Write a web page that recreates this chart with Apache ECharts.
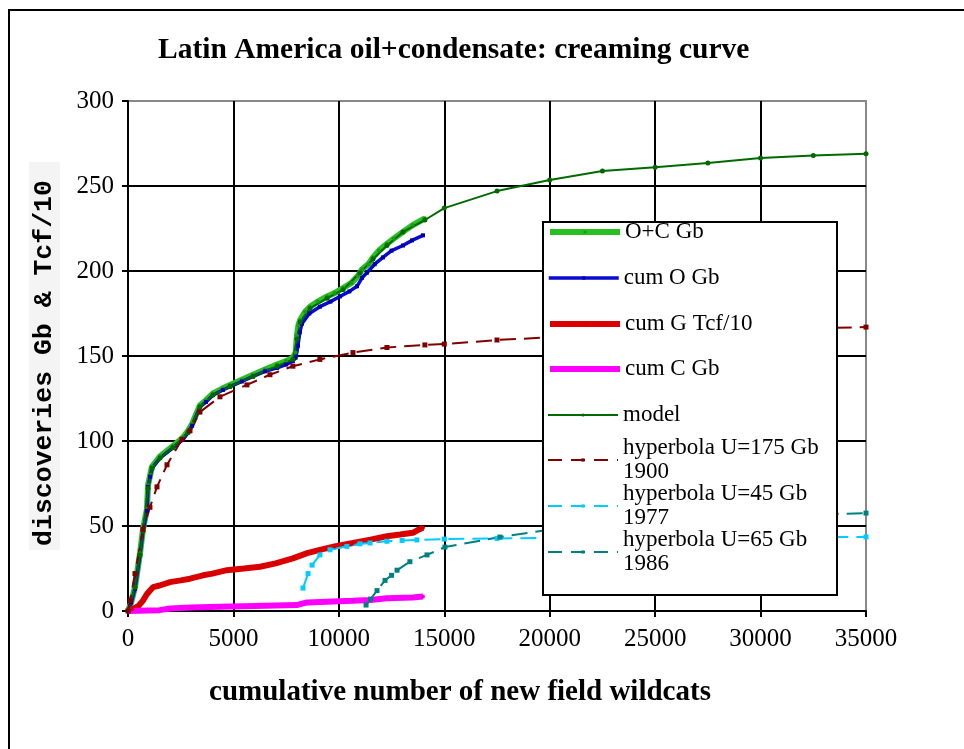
<!DOCTYPE html>
<html>
<head>
<meta charset="utf-8">
<script src="https://cdn.jsdelivr.net/npm/echarts@6/dist/echarts.min.js"></script>
<style>
html,body{margin:0;padding:0;background:#fff;}
#c{width:964px;height:749px;}
</style>
</head>
<body>
<div id="c"></div>
<script>
// ---- data (x = cumulative number of new field wildcats, y = Gb or Tcf/10) ----
const xTicks = [0, 5000, 10000, 15000, 20000, 25000, 30000, 35000];
const yTicks = [0, 50, 100, 150, 200, 250, 300];

const ocGb = [[0,0],[150,5],[330,14],[570,34],[710,48],[900,60],[950,74],[1050,80],[1140,85],[1520,91],[2130,97],[2610,102],[2850,106],[3040,110],[3410,121],[3700,124],[4030,128],[4500,131],[4840,133],[5400,136],[5930,139],[6500,142],[7070,145],[7500,147],[7820,149],[7950,152],[8010,162],[8080,168],[8160,171],[8400,176],[8630,179],[9000,182],[9440,185],[9800,187],[10200,190],[10600,193],[10900,197],[11100,201],[11400,204],[11620,208],[11900,212],[12280,216],[12600,219],[13040,223],[13500,227],[14080,231]];

const cumO = [[0,0],[150,5],[330,13],[570,33],[710,47],[900,59],[950,73],[1050,79],[1140,84],[1520,90],[2130,96],[2610,101],[2850,105],[3040,109],[3410,120],[3700,123],[4030,127],[4500,130],[4840,132],[5400,135],[5930,138],[6500,141],[7070,143],[7500,145],[7820,147],[7950,149],[8060,156],[8150,164],[8250,169],[8600,175],[9100,179],[9600,182],[10050,185],[10500,188],[10860,191],[11100,196],[11330,199],[11700,204],[12090,208],[12500,212],[13040,215],[13470,218],[13990,221]];

const cumG = [[0,0],[200,1],[500,3],[700,6],[900,10],[1185,14],[1500,15],[1990,17],[2500,18],[2940,19],[3560,21],[4000,22],[4690,24],[5500,25],[6260,26],[7000,28],[7820,31],[8500,34],[9100,36],[9800,38],[10670,40],[11500,42],[12280,44],[12900,45],[13510,46],[13800,48],[13990,49]];

const cumC = [[0,0],[1500,0.5],[1990,1.5],[3000,2],[4360,2.5],[6000,3],[8010,3.5],[8300,4.5],[8490,5],[10670,6],[11500,6.5],[12280,7.5],[13500,8],[13990,8.5]];

const model = [[0,0],[330,14],[570,33],[710,47],[950,72],[1140,84],[1520,90],[2130,96],[2850,105],[3410,120],[4030,127],[4840,132],[5930,138],[7070,144],[7820,148],[8010,160],[8160,170],[8630,178],[9440,184],[10200,189],[11000,199],[11620,207],[12280,215],[13040,223],[14080,230],[15000,237],[17500,247],[20000,253.5],[22500,258.8],[25000,261],[27500,263.5],[30000,266.5],[32500,268],[35000,269]];

const hyp175 = [[0,0],[95,6],[330,22],[710,48],[1040,61],[1375,73],[1850,86],[2560,101],[2940,106],[3410,117],[4360,126],[5640,133],[6730,139],[7820,144],[9100,148],[10670,152],[12280,155],[14080,156.5],[15000,157],[17500,159.4],[20000,161],[22500,162.5],[25000,163.7],[27500,164.8],[30000,165.7],[32500,166.4],[35000,167]];

const hyp45 = [[8300,13.5],[8540,22],[8730,27],[9100,33],[9580,36],[10380,38],[11000,39.5],[11480,40],[12280,41],[13000,41.5],[13700,41.8],[15000,42.3],[17500,42.7],[20000,43],[22500,43.2],[25000,43.3],[27500,43.4],[30000,43.5],[32500,43.5],[35000,43.6]];

const hyp65 = [[11290,3.5],[11500,7],[11810,12],[12190,18],[12500,21],[12760,24],[13370,29],[14180,33],[15030,37.6],[17640,43.5],[20000,47.8],[22500,50.8],[25000,52.9],[27500,54.4],[30000,55.7],[32500,56.7],[35000,57.6]];

const names = ['O+C Gb','cum O Gb','cum G Tcf/10','cum C Gb','model','hyperbola U=175 Gb\n1900','hyperbola U=45 Gb\n1977','hyperbola U=65 Gb\n1986'];

// ---- chart ----
const serif = '"Liberation Serif","Times New Roman",serif';
const chart = echarts.init(document.getElementById('c'), null, {renderer:'canvas'});

const styles = [
  {c:'#28c021', w:6,   s:'circle', z:4, sc:'#1a9a18'},
  {c:'#0a0ad0', w:3.5, s:'rect',   z:4, sc:'#0000b0'},
  {c:'#dd0000', w:6,   s:'circle', z:4, sc:'#cc0000'},
  {c:'#ff00ff', w:6,   s:'circle', z:4, sc:'#ee00ee'},
  {c:'#006a00', w:2,   s:'circle', z:5, sc:'#006a00'},
  {c:'#800000', w:2,   s:'rect',   z:5, sc:'#800000', d:true},
  {c:'#00ccff', w:2,   s:'rect',   z:5, sc:'#00ccff', d:true},
  {c:'#008080', w:2,   s:'rect',   z:5, sc:'#008080', d:true}
];
const dataSets = [ocGb, cumO, cumG, cumC, model, hyp175, hyp45, hyp65];
const dashPattern = [16, 8];

const series = names.map(function (n, i) {
  const st = styles[i];
  return {
    name: n, type: 'line', data: dataSets[i],
    symbol: st.s, symbolSize: st.z, showSymbol: true,
    lineStyle: {color: st.c, width: st.w, type: st.d ? dashPattern : 'solid'},
    itemStyle: {color: st.sc},
    emphasis: {disabled: true}, animation: false, z: 2
  };
});

const iconCenters = [232, 278, 324, 369, 415, 460, 506, 552];
const legends = names.map(function (n, i) {
  const two = n.indexOf('\n') >= 0;
  const st = styles[i];
  return {
    data: [n], orient: 'vertical', left: 547,
    top: iconCenters[i] - (two ? 36 : 12),
    padding: 0, itemWidth: 70, itemHeight: 4, itemGap: 0,
    selectedMode: false, z: 10,
    lineStyle: {width: st.w, color: st.c, type: st.d ? [14, 9] : 'solid'},
    textStyle: {fontFamily: serif, fontSize: 23, color: '#000', lineHeight: 24,
      padding: two ? [24, 0, 0, 0] : 0}
  };
});

const option = {
  animation: false,
  backgroundColor: '#fff',
  title: {
    text: 'Latin America oil+condensate: creaming curve',
    left: 158, top: 35, padding: 0,
    textStyle: {fontFamily: serif, fontSize: 29.5, fontWeight: 'bold', color: '#000'}
  },
  grid: {left: 128, top: 101, right: 98, bottom: 138, show: true,
         borderColor: '#888', borderWidth: 2, backgroundColor: 'transparent'},
  xAxis: {
    type: 'value', min: 0, max: 35000, interval: 5000,
    name: 'cumulative number of new field wildcats',
    nameLocation: 'middle', nameGap: 67,
    nameTextStyle: {fontFamily: serif, fontSize: 29, fontWeight: 'bold', color: '#000', padding: [0, 74, 0, 0]},
    axisLine: {show: true, onZero: false, lineStyle: {color: '#000', width: 2}},
    axisTick: {show: true, inside: false, length: 6, lineStyle: {color: '#000', width: 2}},
    axisLabel: {margin: 16, fontFamily: serif, fontSize: 25, color: '#000',
      formatter: function (v) { return xTicks.indexOf(v) >= 0 ? String(v) : ''; }},
    splitLine: {show: true, showMaxLine: false, lineStyle: {color: '#000', width: 2}}
  },
  yAxis: {
    type: 'value', min: 0, max: 300, interval: 50,
    name: 'discoveries Gb & Tcf/10',
    nameLocation: 'middle', nameGap: 68, nameRotate: 90,
    nameTextStyle: {fontFamily: '"Liberation Mono","Courier New",monospace', fontSize: 26.5,
      fontWeight: 'bold', color: '#000', backgroundColor: '#f4f4f4', padding: [2, 18, 2, 4]},
    axisLine: {show: true, onZero: false, lineStyle: {color: '#000', width: 2}},
    axisTick: {show: true, inside: false, length: 6, lineStyle: {color: '#000', width: 2}},
    axisLabel: {margin: 14, fontFamily: serif, fontSize: 25, color: '#000',
      formatter: function (v) { return yTicks.indexOf(v) >= 0 ? String(v) : ''; }},
    splitLine: {show: true, showMaxLine: false, lineStyle: {color: '#000', width: 2}}
  },
  legend: legends,
  graphic: [
    {type: 'rect', silent: true, z: -10, shape: {x: 9, y: 10, width: 1000, height: 1000},
     style: {fill: 'none', stroke: '#000', lineWidth: 2}},
    {type: 'rect', silent: true, z: 5, shape: {x: 543, y: 222, width: 294, height: 373},
     style: {fill: '#fff', stroke: '#000', lineWidth: 2}}
  ],
  series: series
};
chart.setOption(option);
</script>
</body>
</html>
